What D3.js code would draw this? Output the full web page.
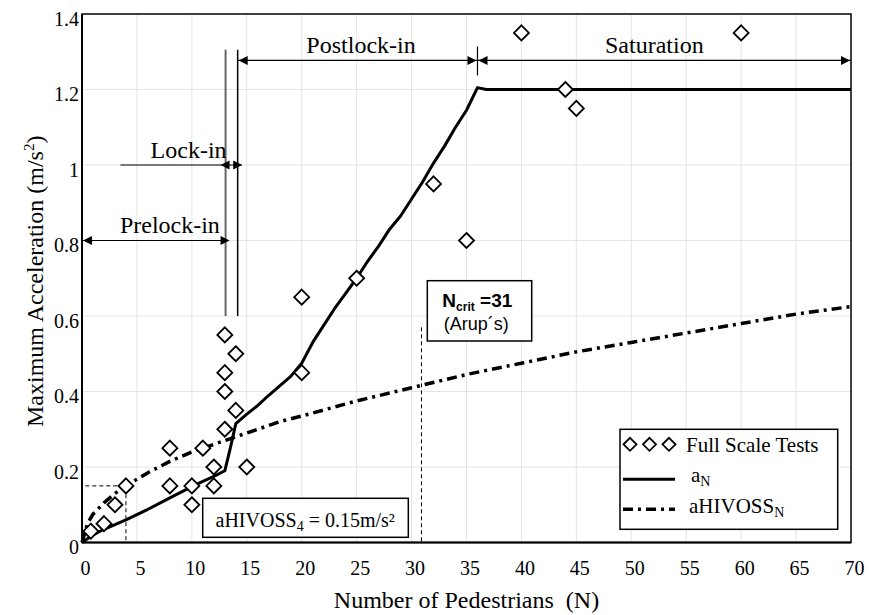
<!DOCTYPE html>
<html>
<head>
<meta charset="utf-8">
<script src="https://cdn.jsdelivr.net/npm/d3@7"></script>
<style>
    body { margin: 0; background: #fff; }
    svg text { font-family: "Liberation Serif", "Times New Roman", serif; fill: #000; }
</style>
</head>
<body>
<div id="chart"></div>
<script>
// full scale tests (diamonds)
var testN   = [0.8, 2, 3, 4, 8, 8, 10, 10, 11, 12, 12, 13, 13, 13, 13, 14, 14, 15, 20, 20, 25, 32, 35, 40, 44, 45, 60];
var testAcc = [0.03, 0.05, 0.10, 0.15, 0.25, 0.15, 0.15, 0.10, 0.25, 0.20, 0.15, 0.55, 0.45, 0.40, 0.30, 0.50, 0.35, 0.20, 0.65, 0.45, 0.70, 0.95, 0.80, 1.35, 1.20, 1.15, 1.35];

// a_N curve
var aN_N   = [0, 1, 2, 4, 6, 8, 10, 11, 12, 13, 13.5, 14, 15, 16, 17, 18, 19, 20, 21, 22, 23, 24, 25, 26, 27, 28, 29, 30, 31, 32, 33, 34, 35, 36, 36.8, 70];
var aN_acc = [0, 0.02, 0.035, 0.06, 0.088, 0.118, 0.148, 0.162, 0.175, 0.19, 0.25, 0.315, 0.34, 0.363, 0.39, 0.415, 0.44, 0.475, 0.53, 0.575, 0.62, 0.66, 0.70, 0.745, 0.785, 0.83, 0.865, 0.91, 0.955, 1.005, 1.05, 1.10, 1.145, 1.205, 1.2, 1.2];

// aHIVOSS_N curve
var hiv_N   = [0, 0.5, 1, 2, 3, 4, 6, 8, 10, 12, 14, 16, 18, 20, 25, 30, 35, 40, 45, 50, 55, 60, 65, 70];
var hiv_acc = [0, 0.05, 0.075, 0.105, 0.13, 0.15, 0.185, 0.215, 0.24, 0.26, 0.28, 0.30, 0.32, 0.335, 0.375, 0.41, 0.445, 0.475, 0.505, 0.53, 0.555, 0.58, 0.605, 0.625];

var xTicks = d3.range(0, 71, 5);
var yTicks = [0, 0.2, 0.4, 0.6, 0.8, 1, 1.2, 1.4];

// phase limits (N) and annotation levels (m/s2)
var lockStart = 13.07, lockEnd = 14.17, satStart = 36, nCrit = 30.9, nHiv = 4, aHiv = 0.15;

var W = 869, H = 615,
    margin = {top: 14, right: 18, bottom: 72.5, left: 82},
    width = W - margin.left - margin.right,
    height = H - margin.top - margin.bottom;

var x = d3.scaleLinear().domain([0, 70]).range([0, width]),
    y = d3.scaleLinear().domain([0, 1.4]).range([height, 0]);

var svg = d3.select('#chart').append('svg')
    .attr('width', W).attr('height', H)
    .append('g')
    .attr('transform', 'translate(' + margin.left + ',' + margin.top + ')');

// grid
svg.append('g').selectAll('line').data(xTicks.slice(1, -1)).enter().append('line')
    .attr('x1', function (d) { return x(d); }).attr('x2', function (d) { return x(d); })
    .attr('y1', 0).attr('y2', height)
    .attr('stroke', '#e4e4e4').attr('stroke-width', 1);
svg.append('g').selectAll('line').data(yTicks.slice(1, -1)).enter().append('line')
    .attr('x1', 0).attr('x2', width)
    .attr('y1', function (d) { return y(d); }).attr('y2', function (d) { return y(d); })
    .attr('stroke', '#e4e4e4').attr('stroke-width', 1);

// axes
var xAxis = svg.append('g')
    .attr('transform', 'translate(0,' + height + ')')
    .call(d3.axisBottom(x).tickValues(xTicks).tickSize(0).tickPadding(0));
xAxis.select('.domain').remove();
xAxis.selectAll('text').attr('font-size', 20).attr('dy', 0).attr('y', 32).attr('dx', 3)
    .style('font-family', '"Liberation Serif", serif');

var yAxis = svg.append('g')
    .call(d3.axisLeft(y).tickValues(yTicks).tickSize(0).tickPadding(3)
        .tickFormat(function (d) { return String(+d.toFixed(1)); }));
yAxis.select('.domain').remove();
yAxis.selectAll('text').attr('font-size', 20).attr('dy', 11)
    .style('font-family', '"Liberation Serif", serif');

// frame
svg.append('rect').attr('x', 0).attr('y', 0).attr('width', width).attr('height', height)
    .attr('fill', 'none').attr('stroke', '#000').attr('stroke-width', 1.5);
svg.append('line').attr('x1', 0).attr('x2', 0).attr('y1', 0).attr('y2', height)
    .attr('stroke', '#000').attr('stroke-width', 2);
svg.append('line').attr('x1', 0).attr('x2', width).attr('y1', height).attr('y2', height)
    .attr('stroke', '#000').attr('stroke-width', 2);

// axis titles
svg.append('text')
    .attr('x', width / 2).attr('y', 608 - margin.top)
    .attr('text-anchor', 'middle').attr('font-size', 24)
    .style('white-space', 'pre')
    .text('Number of Pedestrians  (N)');
var yt = svg.append('text')
    .attr('transform', 'translate(' + (43 - margin.left) + ',' + (height / 2 + 3) + ') rotate(-90)')
    .attr('text-anchor', 'middle').attr('font-size', 24);
yt.append('tspan').text('Maximum Acceleration (m/s');
yt.append('tspan').attr('font-size', 15).attr('dy', -9).text('2');
yt.append('tspan').attr('dy', 9).text(')');

// helper: arrowhead (dir 1 = pointing right, -1 = pointing left)
function arrowHead(g, tipX, yy, dir) {
    g.append('path')
        .attr('d', 'M' + tipX + ',' + yy + 'L' + (tipX - dir * 9) + ',' + (yy - 4.5) + 'L' + (tipX - dir * 9) + ',' + (yy + 4.5) + 'Z')
        .attr('fill', '#000');
}

// dashed helper lines
svg.append('path')
    .attr('d', 'M' + x(0.3) + ',' + y(aHiv) + 'H' + x(nHiv) + 'V' + height)
    .attr('fill', 'none').attr('stroke', '#000').attr('stroke-width', 1).attr('stroke-dasharray', '4,3');
svg.append('line')
    .attr('x1', x(nCrit)).attr('x2', x(nCrit)).attr('y1', y(0.57)).attr('y2', height)
    .attr('stroke', '#000').attr('stroke-width', 1).attr('stroke-dasharray', '4,3');

// lock-in limit lines
svg.append('line').attr('x1', x(lockStart)).attr('x2', x(lockStart))
    .attr('y1', y(1.305)).attr('y2', y(0.6)).attr('stroke', '#666').attr('stroke-width', 2);
svg.append('line').attr('x1', x(lockEnd)).attr('x2', x(lockEnd))
    .attr('y1', y(1.305)).attr('y2', y(0.6)).attr('stroke', '#000').attr('stroke-width', 1.5);

var ann = svg.append('g');
// prelock-in
var yPre = y(0.8);
ann.append('line').attr('x1', x(0)).attr('x2', x(lockStart)).attr('y1', yPre).attr('y2', yPre)
    .attr('stroke', '#000').attr('stroke-width', 1.2);
arrowHead(ann, x(0) + 1, yPre, -1);
arrowHead(ann, x(lockStart) + 4, yPre, 1);
ann.append('text').attr('x', x(8)).attr('y', yPre - 8).attr('text-anchor', 'middle')
    .attr('font-size', 24).text('Prelock-in');

// lock-in
var yLock = y(1.0);
ann.append('line').attr('x1', x(3.5)).attr('x2', x(lockEnd) + 4).attr('y1', yLock).attr('y2', yLock)
    .attr('stroke', '#000').attr('stroke-width', 1.2);
arrowHead(ann, x(lockStart) - 5, yLock, -1);
arrowHead(ann, x(lockEnd) + 4.5, yLock, 1);
ann.append('text').attr('x', x(lockStart) + 1).attr('y', yLock - 7).attr('text-anchor', 'end')
    .attr('font-size', 24).text('Lock-in');

// postlock-in and saturation
var yTop = y(1.277);
ann.append('line').attr('x1', x(lockEnd)).attr('x2', x(70)).attr('y1', yTop).attr('y2', yTop)
    .attr('stroke', '#000').attr('stroke-width', 1.2);
ann.append('line').attr('x1', x(satStart)).attr('x2', x(satStart)).attr('y1', yTop - 14).attr('y2', yTop + 15)
    .attr('stroke', '#000').attr('stroke-width', 1.2);
arrowHead(ann, x(lockEnd) + 1, yTop, -1);
arrowHead(ann, x(satStart) - 1, yTop, 1);
arrowHead(ann, x(satStart) + 1, yTop, -1);
arrowHead(ann, x(70) - 1, yTop, 1);
ann.append('text').attr('x', x(25.4)).attr('y', yTop - 7).attr('text-anchor', 'middle')
    .attr('font-size', 24).text('Postlock-in');
ann.append('text').attr('x', x(52.1)).attr('y', yTop - 7).attr('text-anchor', 'middle')
    .attr('font-size', 24).text('Saturation');

// curves
var line = d3.line()
    .x(function (d) { return x(d[0]); })
    .y(function (d) { return y(d[1]); });

svg.append('path')
    .datum(d3.zip(hiv_N, hiv_acc))
    .attr('d', line)
    .attr('fill', 'none').attr('stroke', '#000').attr('stroke-width', 3.5)
    .attr('stroke-dasharray', '10,5,3,5');

svg.append('path')
    .datum(d3.zip(aN_N, aN_acc))
    .attr('d', line)
    .attr('fill', 'none').attr('stroke', '#000').attr('stroke-width', 3)
    .attr('stroke-linejoin', 'round');

// diamonds
var diamond = 'M0,-7.5L7.5,0L0,7.5L-7.5,0Z';
svg.append('g').selectAll('path').data(d3.zip(testN, testAcc)).enter().append('path')
    .attr('transform', function (d) { return 'translate(' + x(d[0]) + ',' + y(d[1]) + ')'; })
    .attr('d', diamond)
    .attr('fill', '#fff').attr('stroke', '#000').attr('stroke-width', 1.8);

// Ncrit box
var nb = svg.append('g').attr('transform', 'translate(' + (427.3 - margin.left) + ',' + (280.7 - margin.top) + ')');
nb.append('rect').attr('width', 104.4).attr('height', 60.3)
    .attr('fill', '#fff').attr('stroke', '#000').attr('stroke-width', 1.5);
var nt = nb.append('text').attr('x', 50).attr('y', 26).attr('text-anchor', 'middle')
    .style('font-family', '"Liberation Sans", Arial, sans-serif').attr('font-weight', 'bold').attr('font-size', 19);
nt.append('tspan').text('N');
nt.append('tspan').attr('font-size', 12).attr('dy', 4).text('crit');
nt.append('tspan').attr('dy', -4).text(' =31');
nb.append('text').attr('x', 49).attr('y', 49.5).attr('text-anchor', 'middle')
    .style('font-family', '"Liberation Sans", Arial, sans-serif').attr('font-size', 18)
    .text('(Arup\u00b4s)');

// aHIVOSS4 box
var hb = svg.append('g').attr('transform', 'translate(' + (202.7 - margin.left) + ',' + (498.3 - margin.top) + ')');
hb.append('rect').attr('width', 205.6).attr('height', 39)
    .attr('fill', '#fff').attr('stroke', '#000').attr('stroke-width', 1.5);
var ht = hb.append('text').attr('x', 102.5).attr('y', 28.4).attr('text-anchor', 'middle').attr('font-size', 20);
ht.append('tspan').text('aHIVOSS');
ht.append('tspan').attr('font-size', 14).attr('dy', 4).text('4');
ht.append('tspan').attr('dy', -4).text(' = 0.15m/s\u00b2');

// legend
var lg = svg.append('g').attr('transform', 'translate(' + (620 - margin.left) + ',' + (429.3 - margin.top) + ')');
lg.append('rect').attr('width', 217.7).attr('height', 100)
    .attr('fill', '#fff').attr('stroke', '#000').attr('stroke-width', 1.5);
[10, 29.5, 49].forEach(function (cx) {
    lg.append('path').attr('transform', 'translate(' + cx + ',15)')
        .attr('d', 'M0,-6.5L6.5,0L0,6.5L-6.5,0Z')
        .attr('fill', '#fff').attr('stroke', '#000').attr('stroke-width', 1.8);
});
lg.append('text').attr('x', 66).attr('y', 22.7).attr('font-size', 21).text('Full Scale Tests');
lg.append('line').attr('x1', 3).attr('x2', 55).attr('y1', 50).attr('y2', 50)
    .attr('stroke', '#000').attr('stroke-width', 3);
var l2 = lg.append('text').attr('x', 71).attr('y', 52.4).attr('font-size', 21);
l2.append('tspan').text('a');
l2.append('tspan').attr('font-size', 14).attr('dy', 4).text('N');
lg.append('line').attr('x1', 3).attr('x2', 55).attr('y1', 80).attr('y2', 80)
    .attr('stroke', '#000').attr('stroke-width', 3.5).attr('stroke-dasharray', '10,5,3,5');
var l3 = lg.append('text').attr('x', 69).attr('y', 84).attr('font-size', 21);
l3.append('tspan').text('aHIVOSS');
l3.append('tspan').attr('font-size', 14).attr('dy', 4).text('N');
</script>
</body>
</html>
